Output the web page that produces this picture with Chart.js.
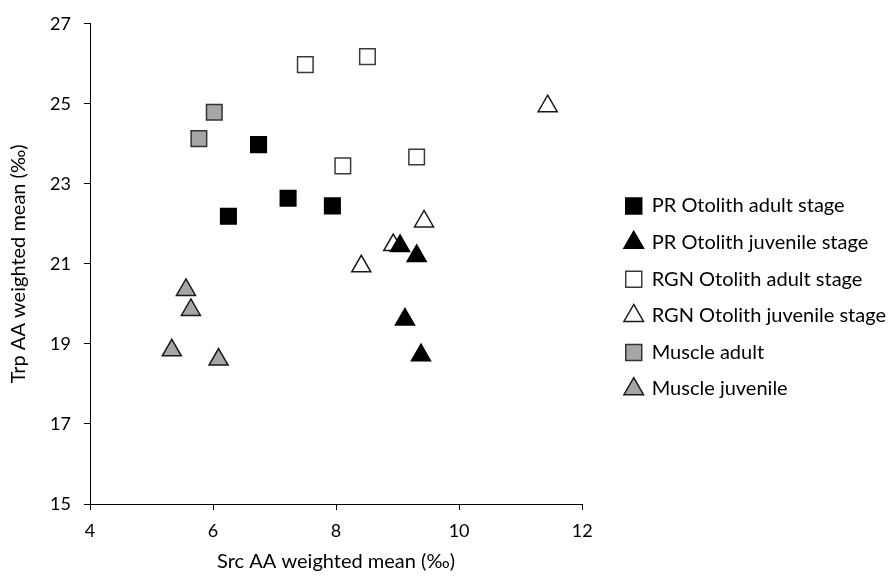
<!DOCTYPE html>
<html>
<head>
<meta charset="utf-8">
<title>Trp vs Src AA weighted mean</title>
<script src="https://cdn.jsdelivr.net/npm/chart.js@4"></script>
<style>
    body { margin: 0; background: #fff; }
    #wrap { width: 890px; height: 576px; position: relative; }
</style>
</head>
<body>
<div id="wrap"><canvas id="scatterChart"></canvas></div>
<script>
// Values (Src on x, Trp on y, both in ‰)
const seriesNames = [
    "PR Otolith adult stage",
    "PR Otolith juvenile stage",
    "RGN Otolith adult stage",
    "RGN Otolith juvenile stage",
    "Muscle adult",
    "Muscle juvenile"
];
const prAdultX = [6.74, 6.25, 7.22, 7.94];
const prAdultY = [23.98, 22.19, 22.64, 22.45];
const prJuvenileX = [9.04, 9.31, 9.12, 9.38];
const prJuvenileY = [21.45, 21.20, 19.61, 18.72];
const rgnAdultX = [7.50, 8.51, 8.11, 9.31];
const rgnAdultY = [25.98, 26.18, 23.45, 23.67];
const rgnJuvenileX = [8.41, 11.44, 9.43, 8.93];
const rgnJuvenileY = [20.94, 24.94, 22.06, 21.47];
const muscleAdultX = [6.02, 5.77];
const muscleAdultY = [24.79, 24.13];
const muscleJuvenileX = [5.56, 5.64, 5.33, 6.09];
const muscleJuvenileY = [20.35, 19.85, 18.84, 18.61];

const xTicks = [4, 6, 8, 10, 12];
const yTicks = [15, 17, 19, 21, 23, 25, 27];

// pair up x and y arrays for the scatter datasets
function toPoints(xs, ys) {
    return xs.map((x, i) => ({ x: x, y: ys[i] }));
}

function makeSet(label, xs, ys, style, fill, border) {
    return {
        label: label,
        data: toPoints(xs, ys),
        pointStyle: style,
        pointRadius: 11,
        pointHoverRadius: 11,
        backgroundColor: fill,
        borderColor: border,
        borderWidth: 1.5
    };
}

Chart.defaults.font.family = "Lato";
Chart.defaults.color = "#000";

const ctx = document.getElementById("scatterChart").getContext("2d");
const chart = new Chart(ctx, {
    type: "scatter",
    data: {
        datasets: [
            makeSet(seriesNames[0], prAdultX, prAdultY, "rect", "#000", "#000"),
            makeSet(seriesNames[1], prJuvenileX, prJuvenileY, "triangle", "#000", "#000"),
            makeSet(seriesNames[2], rgnAdultX, rgnAdultY, "rect", "#fff", "#3a3a3a"),
            makeSet(seriesNames[3], rgnJuvenileX, rgnJuvenileY, "triangle", "#fff", "#1a1a1a"),
            makeSet(seriesNames[4], muscleAdultX, muscleAdultY, "rect", "#a6a6a6", "#333"),
            makeSet(seriesNames[5], muscleJuvenileX, muscleJuvenileY, "triangle", "#a6a6a6", "#1a1a1a")
        ]
    },
    options: {
        responsive: true,
        maintainAspectRatio: false,
        animation: false,
        layout: { padding: { top: 8, left: 0, right: -6, bottom: 0 } },
        plugins: {
            tooltip: { enabled: false },
            legend: {
                position: "right",
                maxWidth: 320,
                title: { display: true, text: "", font: { size: 1, lineHeight: 1 }, padding: { top: 10, bottom: 0 } },
                labels: {
                    usePointStyle: true,
                    boxWidth: 16,
                    boxHeight: 16,
                    padding: 16.6,
                    color: "#000",
                    font: { size: 20 }
                }
            }
        },
        scales: {
            x: {
                type: "linear",
                min: 4,
                max: 12,
                afterFit: (scale) => { scale.height = 72; },
                afterBuildTicks: (scale) => { scale.ticks = xTicks.map(v => ({ value: v })); },
                ticks: { padding: 10, font: { size: 18 }, color: "#000" },
                grid: { display: true, drawOnChartArea: false, tickLength: 6, color: "#000" },
                border: { display: true, color: "#000", width: 1 },
                title: { display: true, text: "Src AA weighted mean (‰)", font: { size: 20 }, color: "#000", padding: { top: 0, bottom: 2 } }
            },
            y: {
                type: "linear",
                min: 15,
                max: 27,
                afterFit: (scale) => { scale.width = 90; },
                afterBuildTicks: (scale) => { scale.ticks = yTicks.map(v => ({ value: v })); },
                ticks: { padding: 13, font: { size: 18 }, color: "#000" },
                grid: { display: true, drawOnChartArea: false, tickLength: 6, color: "#000" },
                border: { display: true, color: "#000", width: 1 },
                title: { display: true, text: "Trp AA weighted mean (‰)", font: { size: 20 }, color: "#000", padding: { top: 7, bottom: 0 } }
            },
            // empty spacer between plot and legend
            gap: {
                type: "linear",
                position: "right",
                display: true,
                afterFit: (scale) => { scale.width = 27; },
                ticks: { display: false },
                grid: { display: false },
                border: { display: false }
            }
        }
    }
});
</script>
</body>
</html>
